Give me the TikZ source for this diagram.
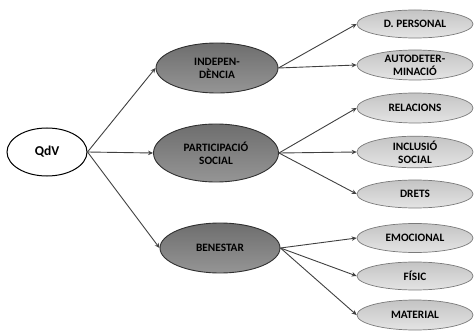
\documentclass[tikz,border=0pt]{standalone}
\usepackage{fontspec}
\setmainfont{Carlito}
\usetikzlibrary{shapes.geometric,arrows.meta}
\definecolor{darkfillA}{HTML}{6E6E6E}
\definecolor{darkfillB}{HTML}{959595}
\definecolor{lightfillA}{HTML}{C4C4C4}
\definecolor{lightfillB}{HTML}{E4E4E4}
\definecolor{edgedark}{HTML}{303030}
\definecolor{edgelight}{HTML}{7A7A7A}
\definecolor{arrowcol}{HTML}{404040}
\tikzset{
  base/.style={ellipse, inner sep=0pt, align=center,
    font=\fontsize{11.3}{12.8}\selectfont\bfseries, text=black},
  rootbox/.style={base, draw=black, line width=1pt, fill=white,
    minimum width=80pt, minimum height=48pt,
    font=\fontsize{13.5}{15}\selectfont\bfseries},
  midbox/.style={base, draw=edgedark, line width=0.9pt,
    top color=darkfillA, bottom color=darkfillB,
    minimum width=122pt, minimum height=50pt},
  leafbox/.style={base, draw=edgelight, line width=0.7pt,
    top color=lightfillA, bottom color=lightfillB,
    minimum width=116pt, minimum height=29pt},
  link/.style={draw=arrowcol, line width=0.9pt,
    -{Stealth[length=5pt,width=4.5pt]}}
}
\begin{document}
\begin{tikzpicture}[x=1pt,y=-1pt]
\useasboundingbox (0,0) rectangle (474,334);
\node[rootbox] (q) at (47,152) {QdV};
\node[midbox] (ind) at (217,68) {INDEPEN-\\DÈNCIA};
\node[midbox, minimum width=125pt, minimum height=58pt] (par) at (216,153) {PARTICIPACIÓ\\SOCIAL};
\node[midbox, minimum width=120pt] (ben) at (220,248) {BENESTAR};
\node[leafbox, minimum height=28pt] (dp) at (415,24) {D. PERSONAL};
\node[leafbox, minimum height=30pt] (aut) at (415,65) {AUTODETER-\\MINACIÓ};
\node[leafbox, minimum height=30pt] (rel) at (415,108) {RELACIONS};
\node[leafbox, minimum height=30pt] (inc) at (415,152) {INCLUSIÓ\\SOCIAL};
\node[leafbox, minimum height=28pt] (dre) at (415,194) {DRETS};
\node[leafbox] (emo) at (415,238) {EMOCIONAL};
\node[leafbox, minimum height=28pt] (fis) at (415,276) {FÍSIC};
\node[leafbox, minimum height=30pt] (mat) at (415,315) {MATERIAL};
\draw[link] (q.east) -- (ind.west);
\draw[link] (q.east) -- (par.west);
\draw[link] (q.east) -- (ben.west);
\draw[link] (ind.east) -- (dp.west);
\draw[link] (ind.east) -- (aut.west);
\draw[link] (par.east) -- (rel.west);
\draw[link] (par.east) -- (inc.west);
\draw[link] (par.east) -- (dre.west);
\draw[link] (ben.east) -- (emo.west);
\draw[link] (ben.east) -- (fis.west);
\draw[link] (ben.east) -- (mat.west);
\end{tikzpicture}
\end{document}
